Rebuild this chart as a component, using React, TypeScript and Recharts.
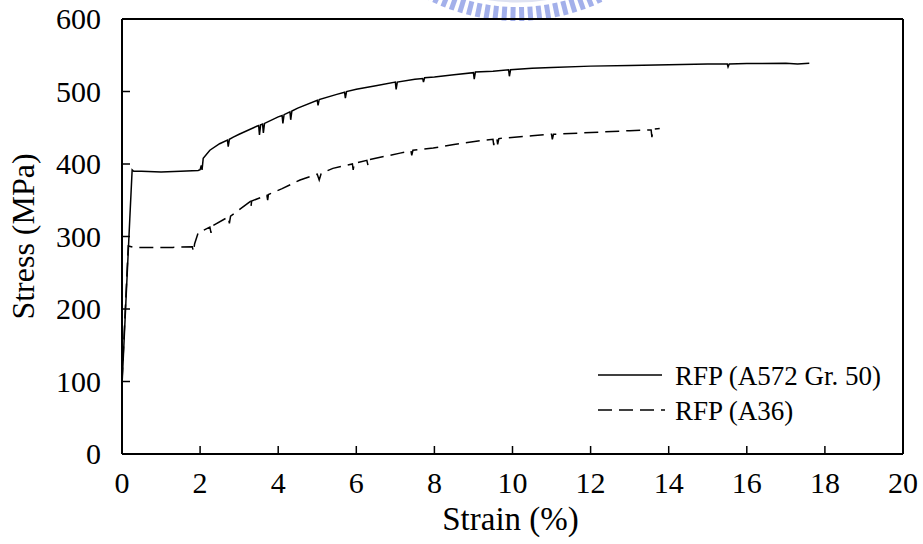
import { LineChart, Line, XAxis, YAxis, ReferenceLine } from "recharts";

// strain (%) / stress (MPa)
const a572Strain = [
  0, 0.1, 0.2, 0.26, 0.3, 0.5, 1.0, 1.5, 1.95, 2.0, 2.03, 2.05, 2.08, 2.25, 2.5,
  2.7, 2.72, 2.75, 2.85, 3.0, 3.45, 3.5, 3.52, 3.55, 3.6, 3.62, 3.65, 4.0, 4.1,
  4.12, 4.15, 4.3, 4.32, 4.35, 4.5, 5.0, 5.02, 5.05, 5.5, 5.7, 5.72, 5.75, 6.0,
  6.5, 7.0, 7.02, 7.05, 7.5, 7.7, 7.72, 7.75, 8.0, 8.5, 9.0, 9.02, 9.05, 9.5,
  9.9, 9.92, 9.95, 10.5, 11, 12, 13, 14, 15, 15.5, 15.52, 15.55, 16, 17, 17.3,
  17.6,
];
const a572Stress = [
  95, 210, 325, 392, 390, 390, 389, 390, 391, 392, 398, 392, 408, 419, 428,
  433, 424, 434, 437, 441, 452, 453, 440, 454, 455, 443, 456, 465, 467,
  456, 468, 472, 461, 473, 477, 488, 481, 489, 496, 499, 491, 500, 503,
  508, 513, 503, 513, 517, 518, 513, 519, 520, 523, 526, 517, 527, 528,
  530, 521, 530, 532, 533, 535, 536, 537, 538, 538, 534, 538, 538.5, 539, 538,
  539,
];

const a36Strain = [
  0, 0.08, 0.16, 0.3, 0.8, 1.3, 1.8, 1.83, 1.86, 1.95, 2.25, 2.28, 2.3, 2.72,
  2.75, 2.78, 3.28, 3.3, 3.32, 3.71, 3.73, 3.75, 4.1, 4.56, 5.0, 5.05, 5.1, 5.4,
  5.9, 5.92, 5.95, 6.27, 6.3, 6.33, 7.12, 7.4, 7.42, 7.45, 7.97, 8.5, 9.17, 9.5,
  9.52, 9.55, 9.6, 9.62, 9.65, 10.5, 11.0, 11.02, 11.05, 12.24, 13, 13.55,
  13.57, 13.6, 13.77,
];
const a36Stress = [
  100, 195, 287, 285, 285, 285, 286, 279, 290, 305, 313, 305, 314, 327,
  318, 328, 348, 340, 349, 357, 350, 358, 366, 378, 386, 378, 387, 394,
  400, 392, 401, 405, 398, 406, 415, 418, 412, 419, 422, 427, 432, 434,
  426, 434, 435, 427, 435, 439, 441, 434, 441, 444, 446, 447,
  437, 448, 449,
];

const xTicks = [0, 2, 4, 6, 8, 10, 12, 14, 16, 18, 20];
const yTicks = [0, 100, 200, 300, 400, 500, 600];

const seriesNames = ["RFP (A572 Gr. 50)", "RFP (A36)"];
const xTitle = "Strain (%)";
const yTitle = "Stress (MPa)";

const a572Data = a572Strain.map((x, i) => ({ x, y: a572Stress[i] }));
const a36Data = a36Strain.map((x, i) => ({ x, y: a36Stress[i] }));

const FONT = "'Liberation Serif', 'Times New Roman', serif";

const XTick = (props: any) => {
  const { x, y, payload } = props;
  return (
    <g>
      <line x1={x} x2={x} y1={y} y2={y - 8} stroke="#000" strokeWidth={1.5} />
      <text x={x} y={y + 39} textAnchor="middle" fontSize={30} fontFamily={FONT} fill="#000">
        {payload.value}
      </text>
    </g>
  );
};

const YTick = (props: any) => {
  const { x, y, payload } = props;
  return (
    <g>
      <line x1={x} x2={x + 8} y1={y} y2={y} stroke="#000" strokeWidth={1.5} />
      <text x={x - 21} y={y + 10} textAnchor="end" fontSize={30} fontFamily={FONT} fill="#000">
        {payload.value}
      </text>
    </g>
  );
};

const XTitle = (props: any) => {
  const { viewBox } = props;
  const cx = viewBox.x + viewBox.width / 2;
  return (
    <text x={cx - 2} y={530} textAnchor="middle" fontSize={33} fontFamily={FONT} fill="#000">
      {xTitle}
    </text>
  );
};

const YTitle = (props: any) => {
  const { viewBox } = props;
  const cy = viewBox.y + viewBox.height / 2;
  return (
    <text
      x={34}
      y={cy}
      transform={`rotate(-90 34 ${cy})`}
      textAnchor="middle"
      fontSize={32}
      fontFamily={FONT}
      fill="#000"
    >
      {yTitle}
    </text>
  );
};

// faint logo watermark at the top edge
function Watermark() {
  const cx = 517;
  const cy = -177;
  const teeth = [];
  for (let a = 60; a <= 120; a += 2.6) {
    const r = (a * Math.PI) / 180;
    teeth.push(
      <line
        key={a}
        x1={cx + 184 * Math.cos(r)}
        y1={cy + 184 * Math.sin(r)}
        x2={cx + 198 * Math.cos(r)}
        y2={cy + 198 * Math.sin(r)}
        stroke="#8596e4"
        strokeWidth={5}
      />
    );
  }
  return (
    <svg width={923} height={40} style={{ position: "absolute", left: 0, top: 0, opacity: 0.75 }}>
      <circle cx={cx} cy={cy} r={178} fill="none" stroke="#d3d9ee" strokeWidth={3} />
      <circle cx={cx} cy={cy} r={170} fill="none" stroke="#e6e9f3" strokeWidth={2} />
      {teeth}
    </svg>
  );
}

function LegendBox() {
  return (
    <svg width={320} height={85} style={{ position: "absolute", left: 590, top: 355 }}>
      <line x1={8} x2={72} y1={20} y2={20} stroke="#000" strokeWidth={1.5} />
      <text x={85} y={30} fontSize={27} fontFamily={FONT} fill="#000">
        {seriesNames[0]}
      </text>
      <line x1={8} x2={75} y1={55} y2={55} stroke="#000" strokeWidth={1.5} strokeDasharray="14 7" />
      <text x={85} y={65} fontSize={27} fontFamily={FONT} fill="#000">
        {seriesNames[1]}
      </text>
    </svg>
  );
}

export default function App() {
  return (
    <div style={{ position: "absolute", left: 0, top: 0, width: 923, height: 544, background: "#fff" }}>
      <Watermark />
      <div style={{ position: "absolute", left: 0, top: 0 }}>
        <LineChart
          width={923}
          height={544}
          margin={{ top: 19, right: 20, bottom: 60, left: 62 }}
        >
          <XAxis
            type="number"
            dataKey="x"
            domain={[0, 20]}
            ticks={xTicks}
            allowDataOverflow
            height={30}
            tickSize={0}
            tickMargin={0}
            tick={<XTick />}
            axisLine={{ stroke: "#000", strokeWidth: 2 }}
            label={<XTitle />}
          />
          <YAxis
            type="number"
            domain={[0, 600]}
            ticks={yTicks}
            width={60}
            tickSize={0}
            tickMargin={0}
            tick={<YTick />}
            axisLine={{ stroke: "#000", strokeWidth: 2 }}
            label={<YTitle />}
          />
          <ReferenceLine y={600} stroke="#000" strokeWidth={2} />
          <ReferenceLine x={20} stroke="#000" strokeWidth={2} />
          <Line
            data={a572Data}
            dataKey="y"
            name={seriesNames[0]}
            type="linear"
            stroke="#000"
            strokeWidth={1.5}
            dot={false}
            isAnimationActive={false}
          />
          <Line
            data={a36Data}
            dataKey="y"
            name={seriesNames[1]}
            type="linear"
            stroke="#000"
            strokeWidth={1.5}
            strokeDasharray="14 7"
            dot={false}
            isAnimationActive={false}
          />
        </LineChart>
      </div>
      <LegendBox />
    </div>
  );
}
